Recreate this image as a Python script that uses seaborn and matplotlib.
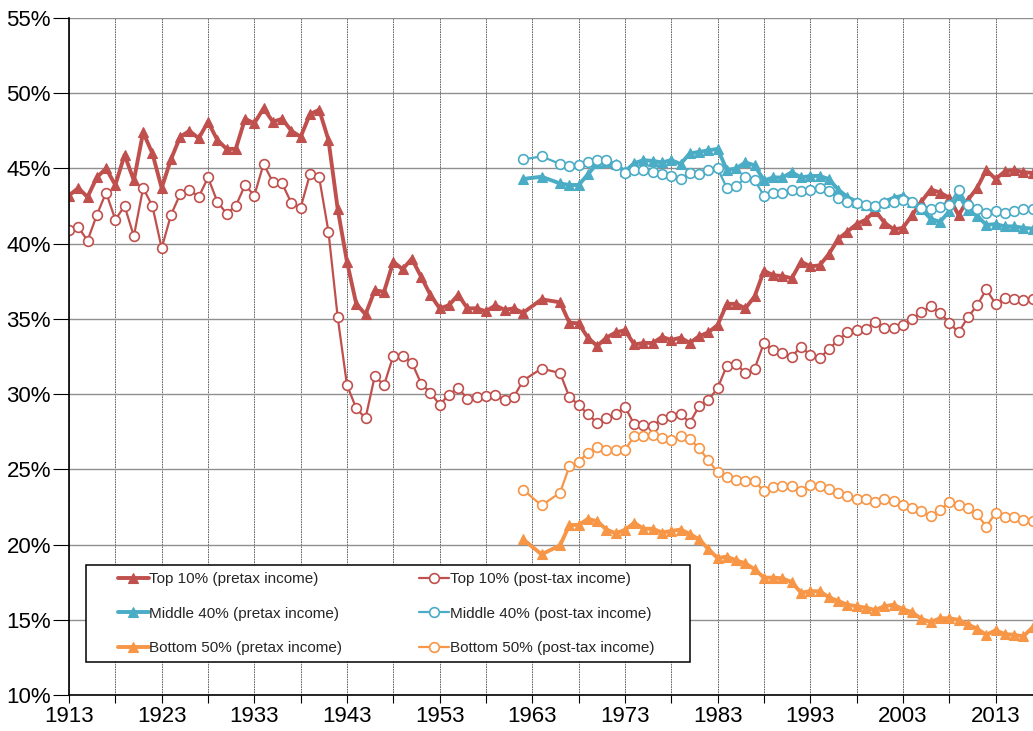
import matplotlib
matplotlib.use("Agg")
import matplotlib.pyplot as plt
import seaborn as sns
from matplotlib.patches import Rectangle

# ---------------- data ----------------
years_early = list(range(1913, 1962))
years_modern = [1962, 1964] + list(range(1966, 2018))

top10_pretax_early = [43.2, 43.7, 43.1, 44.4, 45.0, 43.9, 45.9, 44.2, 47.4, 46.0,
                      43.7, 45.6, 47.1, 47.5, 47.0, 48.1, 46.9, 46.3, 46.3, 48.3,
                      48.0, 49.0, 48.1, 48.3, 47.5, 47.1, 48.6, 48.9, 46.9, 42.3,
                      38.8, 36.0, 35.3, 36.9, 36.8, 38.8, 38.3, 39.0, 37.8, 36.6,
                      35.7, 35.9, 36.6, 35.7, 35.7, 35.5, 35.9, 35.6, 35.7]
top10_posttax_early = [40.9, 41.1, 40.2, 41.9, 43.4, 41.6, 42.5, 40.5, 43.7, 42.5,
                       39.7, 41.9, 43.3, 43.6, 43.1, 44.4, 42.8, 42.0, 42.5, 43.9,
                       43.2, 45.3, 44.1, 44.0, 42.7, 42.4, 44.6, 44.4, 40.8, 35.1,
                       30.6, 29.05, 28.4, 31.2, 30.6, 32.55, 32.55, 32.1, 30.7, 30.1,
                       29.3, 29.95, 30.4, 29.7, 29.8, 29.9, 29.95, 29.6, 29.8]

top10_pretax = [35.4, 36.3, 36.1, 34.75, 34.7, 33.75, 33.2, 33.75, 34.1, 34.25,
                33.3, 33.4, 33.4, 33.8, 33.6, 33.75, 33.4, 33.85, 34.1, 34.6,
                36.0, 36.0, 35.7, 36.5, 38.2, 37.9, 37.85, 37.7, 38.8, 38.5,
                38.55, 39.3, 40.3, 40.8, 41.3, 41.6, 42.2, 41.4, 40.95, 41.05,
                41.9, 42.8, 43.6, 43.4, 43.05, 41.9, 42.9, 43.7, 44.9, 44.3,
                44.8, 44.9, 44.75, 44.7]
top10_posttax = [30.9, 31.7, 31.4, 29.8, 29.3, 28.65, 28.1, 28.4, 28.65, 29.15,
                 28.0, 27.95, 27.9, 28.35, 28.55, 28.7, 28.1, 29.2, 29.6, 30.4,
                 31.9, 32.0, 31.4, 31.7, 33.4, 32.9, 32.7, 32.5, 33.15, 32.6,
                 32.4, 32.97, 33.6, 34.1, 34.25, 34.35, 34.8, 34.4, 34.4, 34.6,
                 34.97, 35.45, 35.85, 35.4, 34.75, 34.1, 35.1, 35.9, 36.96, 36.0,
                 36.4, 36.3, 36.25, 36.3]
mid40_pretax = [44.3, 44.45, 44.0, 43.9, 43.9, 44.6, 45.35, 45.4, 45.3, 44.8,
                45.35, 45.55, 45.5, 45.4, 45.55, 45.3, 46.0, 46.1, 46.2, 46.3,
                44.9, 45.0, 45.4, 45.2, 44.2, 44.4, 44.4, 44.75, 44.4, 44.5,
                44.5, 44.3, 43.6, 43.1, 42.8, 42.6, 42.5, 42.8, 43.05, 43.2,
                42.8, 42.3, 41.65, 41.45, 42.15, 43.25, 42.25, 41.85, 41.25, 41.3,
                41.15, 41.15, 41.05, 41.0]
mid40_posttax = [45.6, 45.8, 45.3, 45.15, 45.2, 45.4, 45.55, 45.55, 45.25, 44.7,
                 44.9, 44.9, 44.75, 44.6, 44.5, 44.3, 44.7, 44.6, 44.9, 45.0,
                 43.7, 43.8, 44.4, 44.2, 43.2, 43.4, 43.4, 43.6, 43.5, 43.6,
                 43.7, 43.5, 43.05, 42.8, 42.7, 42.6, 42.5, 42.7, 42.8, 42.9,
                 42.8, 42.4, 42.3, 42.45, 42.6, 43.6, 42.6, 42.3, 42.05, 42.2,
                 42.05, 42.2, 42.3, 42.3]
bot50_pretax = [20.35, 19.35, 19.95, 21.3, 21.3, 21.7, 21.55, 21.0, 20.75, 20.97,
                21.45, 21.05, 21.05, 20.8, 20.9, 21.0, 20.7, 20.35, 19.7, 19.1,
                19.2, 18.95, 18.75, 18.35, 17.8, 17.8, 17.75, 17.5, 16.8, 16.9,
                16.9, 16.5, 16.25, 16.0, 15.9, 15.8, 15.65, 15.9, 16.0, 15.7,
                15.5, 15.05, 14.85, 15.1, 15.1, 15.0, 14.7, 14.4, 14.0, 14.3,
                14.05, 14.0, 13.9, 14.5]
bot50_posttax = [23.65, 22.6, 23.45, 25.2, 25.5, 26.1, 26.5, 26.3, 26.3, 26.3,
                 27.2, 27.2, 27.3, 27.1, 26.95, 27.2, 27.0, 26.4, 25.6, 24.8,
                 24.5, 24.3, 24.2, 24.2, 23.55, 23.85, 23.9, 23.9, 23.55, 23.95,
                 23.9, 23.7, 23.4, 23.2, 23.05, 23.0, 22.8, 23.0, 22.9, 22.6,
                 22.4, 22.2, 21.9, 22.3, 22.8, 22.6, 22.45, 22.0, 21.2, 22.1,
                 21.85, 21.8, 21.6, 21.55]

x_tick_years = list(range(1913, 2018, 5))
y_ticks = [10, 15, 20, 25, 30, 35, 40, 45, 50, 55]

RED, BLUE, ORANGE = "#C0504D", "#4BACC6", "#F79646"

series = [
    ("Top 10% (pretax income)", years_early + years_modern, top10_pretax_early + top10_pretax, RED, "pre"),
    ("Top 10% (post-tax income)", years_early + years_modern, top10_posttax_early + top10_posttax, RED, "post"),
    ("Middle 40% (pretax income)", years_modern, mid40_pretax, BLUE, "pre"),
    ("Middle 40% (post-tax income)", years_modern, mid40_posttax, BLUE, "post"),
    ("Bottom 50% (pretax income)", years_modern, bot50_pretax, ORANGE, "pre"),
    ("Bottom 50% (post-tax income)", years_modern, bot50_posttax, ORANGE, "post"),
]

# ---------------- style ----------------
sns.set_theme(style="white")
plt.rcParams["font.family"] = ["Liberation Sans", "DejaVu Sans"]

W, H = 1033, 731
fig = plt.figure(figsize=(W / 100, H / 100), dpi=100)
ax = fig.add_axes([69 / W, 36 / H, 964 / W, 677 / H])

for label, xs, ys, col, kind in series:
    if kind == "pre":
        sns.lineplot(x=xs, y=ys, ax=ax, color=col, linewidth=2.8, marker="^",
                     markersize=7.5, markerfacecolor=col, markeredgecolor=col,
                     markeredgewidth=0.8, label=label, estimator=None, sort=False)
    else:
        sns.lineplot(x=xs, y=ys, ax=ax, color=col, linewidth=1.6, marker="o",
                     markersize=7, markerfacecolor="white", markeredgecolor=col,
                     markeredgewidth=1.2, label=label, estimator=None, sort=False)

ax.set_xlim(1913, 1913 + 964 / 9.266)
ax.set_ylim(10, 55)
ax.set_xticks(x_tick_years)
ax.set_xticklabels([str(y) if (y - 1913) % 10 == 0 else "" for y in x_tick_years])
ax.set_yticks(y_ticks)
ax.set_yticklabels([f"{v}%" for v in y_ticks])
ax.set_xlabel("")
ax.set_ylabel("")

ax.yaxis.grid(True, color="#8f8f8f", linewidth=1.0)
ax.xaxis.grid(True, color="#4d4d4d", linewidth=0.6, linestyle=(0, (2, 1)))
ax.set_axisbelow(True)

for s in ["top", "right"]:
    ax.spines[s].set_visible(False)
for s in ["left", "bottom"]:
    ax.spines[s].set_color("black")
    ax.spines[s].set_linewidth(1.2)

ax.tick_params(axis="y", direction="out", length=11.5, width=0.8, pad=1.5,
               labelsize=16, colors="black", left=True)
ax.tick_params(axis="x", direction="out", length=5.8, width=0.8, pad=2,
               labelsize=16, colors="black", bottom=True)

handles, labels = ax.get_legend_handles_labels()
if ax.get_legend() is not None:
    ax.get_legend().remove()
order = [0, 2, 4, 1, 3, 5]

box = Rectangle((86 / W, (H - 662) / H), 604 / W, 97 / H, transform=fig.transFigure,
                facecolor="white", edgecolor="black", linewidth=1.1, zorder=1)
fig.add_artist(box)
fig.legend([handles[i] for i in order], [labels[i] for i in order],
           loc="upper left", bbox_to_anchor=(118 / W, 1 - 572 / H),
           ncol=2, frameon=False, fontsize=11, handlelength=2.0,
           handletextpad=0.05, labelspacing=1.35, columnspacing=5.0,
           borderpad=0, borderaxespad=0)

fig.savefig("out.png", dpi=100)
